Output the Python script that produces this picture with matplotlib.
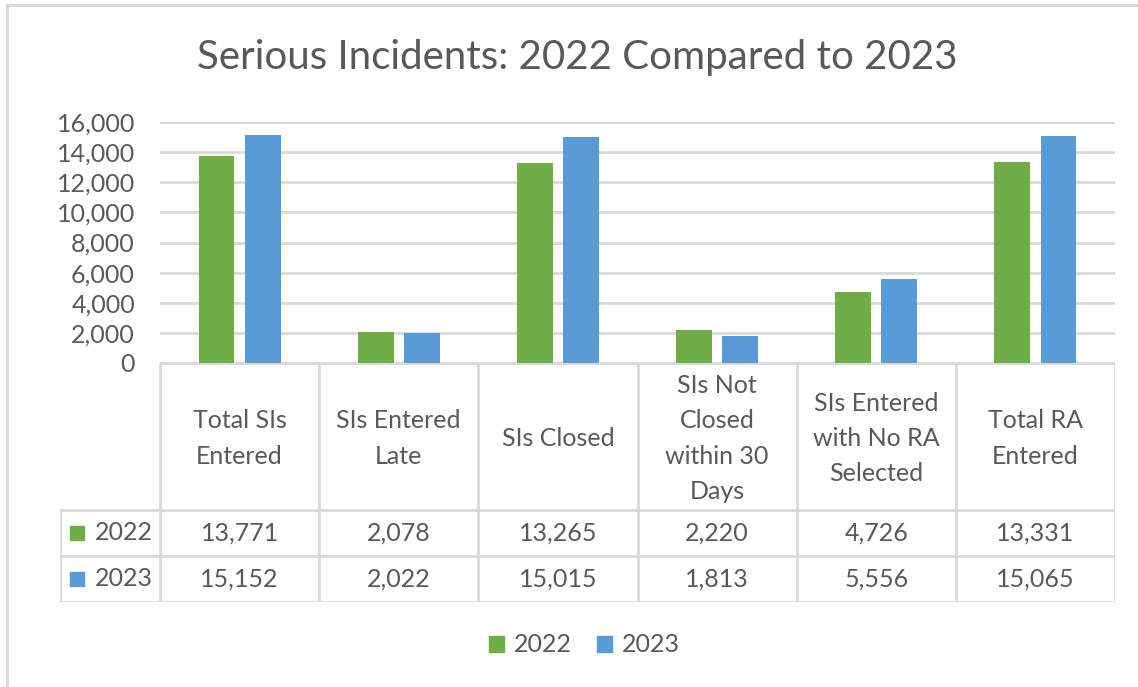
import numpy as np
import matplotlib
matplotlib.use("Agg")
from matplotlib import pyplot as plt
from matplotlib.patches import Patch
from matplotlib.lines import Line2D

categories = [
    "Total SIs\nEntered",
    "SIs Entered\nLate",
    "SIs Closed",
    "SIs Not\nClosed\nwithin 30\nDays",
    "SIs Entered\nwith No RA\nSelected",
    "Total RA\nEntered",
]
years = ["2022", "2023"]
values_2022 = [13771, 2078, 13265, 2220, 4726, 13331]
values_2023 = [15152, 2022, 15015, 1813, 5556, 15065]
y_ticks = [0, 2000, 4000, 6000, 8000, 10000, 12000, 14000, 16000]

GREEN = "#70AD47"
BLUE = "#5B9BD5"
TEXT = "#595959"
GRID = "#D9D9D9"
FS = 18

W, H = 1138, 687
plt.rcParams["font.family"] = ["Lato", "DejaVu Sans"]


def fx(px):
    return px / W


def fy(px):
    return 1 - px / H


fig = plt.figure(figsize=(W / 100, H / 100), dpi=100)

# outer chart border (only top/left visible in the crop)
fig.add_artist(Line2D([fx(7), fx(7)], [fy(5), 0], color=GRID, lw=2.2))
fig.add_artist(Line2D([fx(7), 1], [fy(5), fy(5)], color=GRID, lw=2.2))

fig.text(fx(577), fy(58), "Serious Incidents: 2022 Compared to 2023",
         ha="center", va="center", fontsize=29, color=TEXT)

# main bar plot
left, right, top, bottom = 160, 1115, 122, 363
ax = fig.add_axes([fx(left), fy(bottom), fx(right - left), (bottom - top) / H])
x = np.arange(len(categories))
bw = 0.226
off = 0.145
ax.bar(x - off, values_2022, bw, color=GREEN, zorder=3)
ax.bar(x + off, values_2023, bw, color=BLUE, zorder=3)
ax.set_xlim(-0.5, len(categories) - 0.5)
ax.set_ylim(0, 16000)
ax.set_yticks(y_ticks)
ax.set_yticklabels([f"{v:,}" for v in y_ticks])
ax.set_xticks([])
ax.tick_params(axis="y", length=0, labelsize=FS, labelcolor=TEXT, pad=18)
ax.yaxis.grid(True, color=GRID, lw=2, zorder=0)
for s in ax.spines.values():
    s.set_visible(False)

# data table below
cw = (right - left) / len(categories)
tleft, tbottom = 60, 602
xl = -0.5 - (left - tleft) / cw
tax = fig.add_axes([fx(tleft), fy(tbottom), fx(right - tleft), (tbottom - bottom) / H])
tax.set_xlim(xl, len(categories) - 0.5)
tax.set_ylim(tbottom, bottom)
tax.axis("off")
row_tops = [363, 510, 556, 602]
lc = dict(color=GRID, lw=2, solid_capstyle="projecting")
tax.plot([-0.5, len(categories) - 0.5], [row_tops[0]] * 2, **lc)
for yy in row_tops[1:]:
    tax.plot([xl, len(categories) - 0.5], [yy, yy], **lc)
for i in range(len(categories) + 1):
    tax.plot([i - 0.5, i - 0.5], [row_tops[0], row_tops[-1]], **lc)
tax.plot([xl, xl], [row_tops[1], row_tops[-1]], **lc)

for i, cat in enumerate(categories):
    tax.text(i, (row_tops[0] + row_tops[1]) / 2 + 2, cat, ha="center", va="center",
             fontsize=FS, color=TEXT, linespacing=1.65)
    tax.text(i, (row_tops[1] + row_tops[2]) / 2, f"{values_2022[i]:,}", ha="center",
             va="center", fontsize=FS, color=TEXT)
    tax.text(i, (row_tops[2] + row_tops[3]) / 2, f"{values_2023[i]:,}", ha="center",
             va="center", fontsize=FS, color=TEXT)

for r, (yr, col) in enumerate(zip(years, [GREEN, BLUE])):
    yc = (row_tops[r + 1] + row_tops[r + 2]) / 2
    tax.plot([xl + 17 / cw], [yc], marker="s", ms=10.5, color=col, lw=0)
    tax.text(xl + 35 / cw, yc, yr, ha="left", va="center", fontsize=FS, color=TEXT)

handles = [Patch(color=GREEN, label=years[0]), Patch(color=BLUE, label=years[1])]
fig.legend(handles=handles, loc="center", bbox_to_anchor=(fx(584), fy(645)), ncol=2,
           frameon=False, fontsize=FS, labelcolor=TEXT, handlelength=0.6,
           handleheight=0.6, handletextpad=0.4, columnspacing=1.0)

fig.savefig("out.png", dpi=100, facecolor="white")
